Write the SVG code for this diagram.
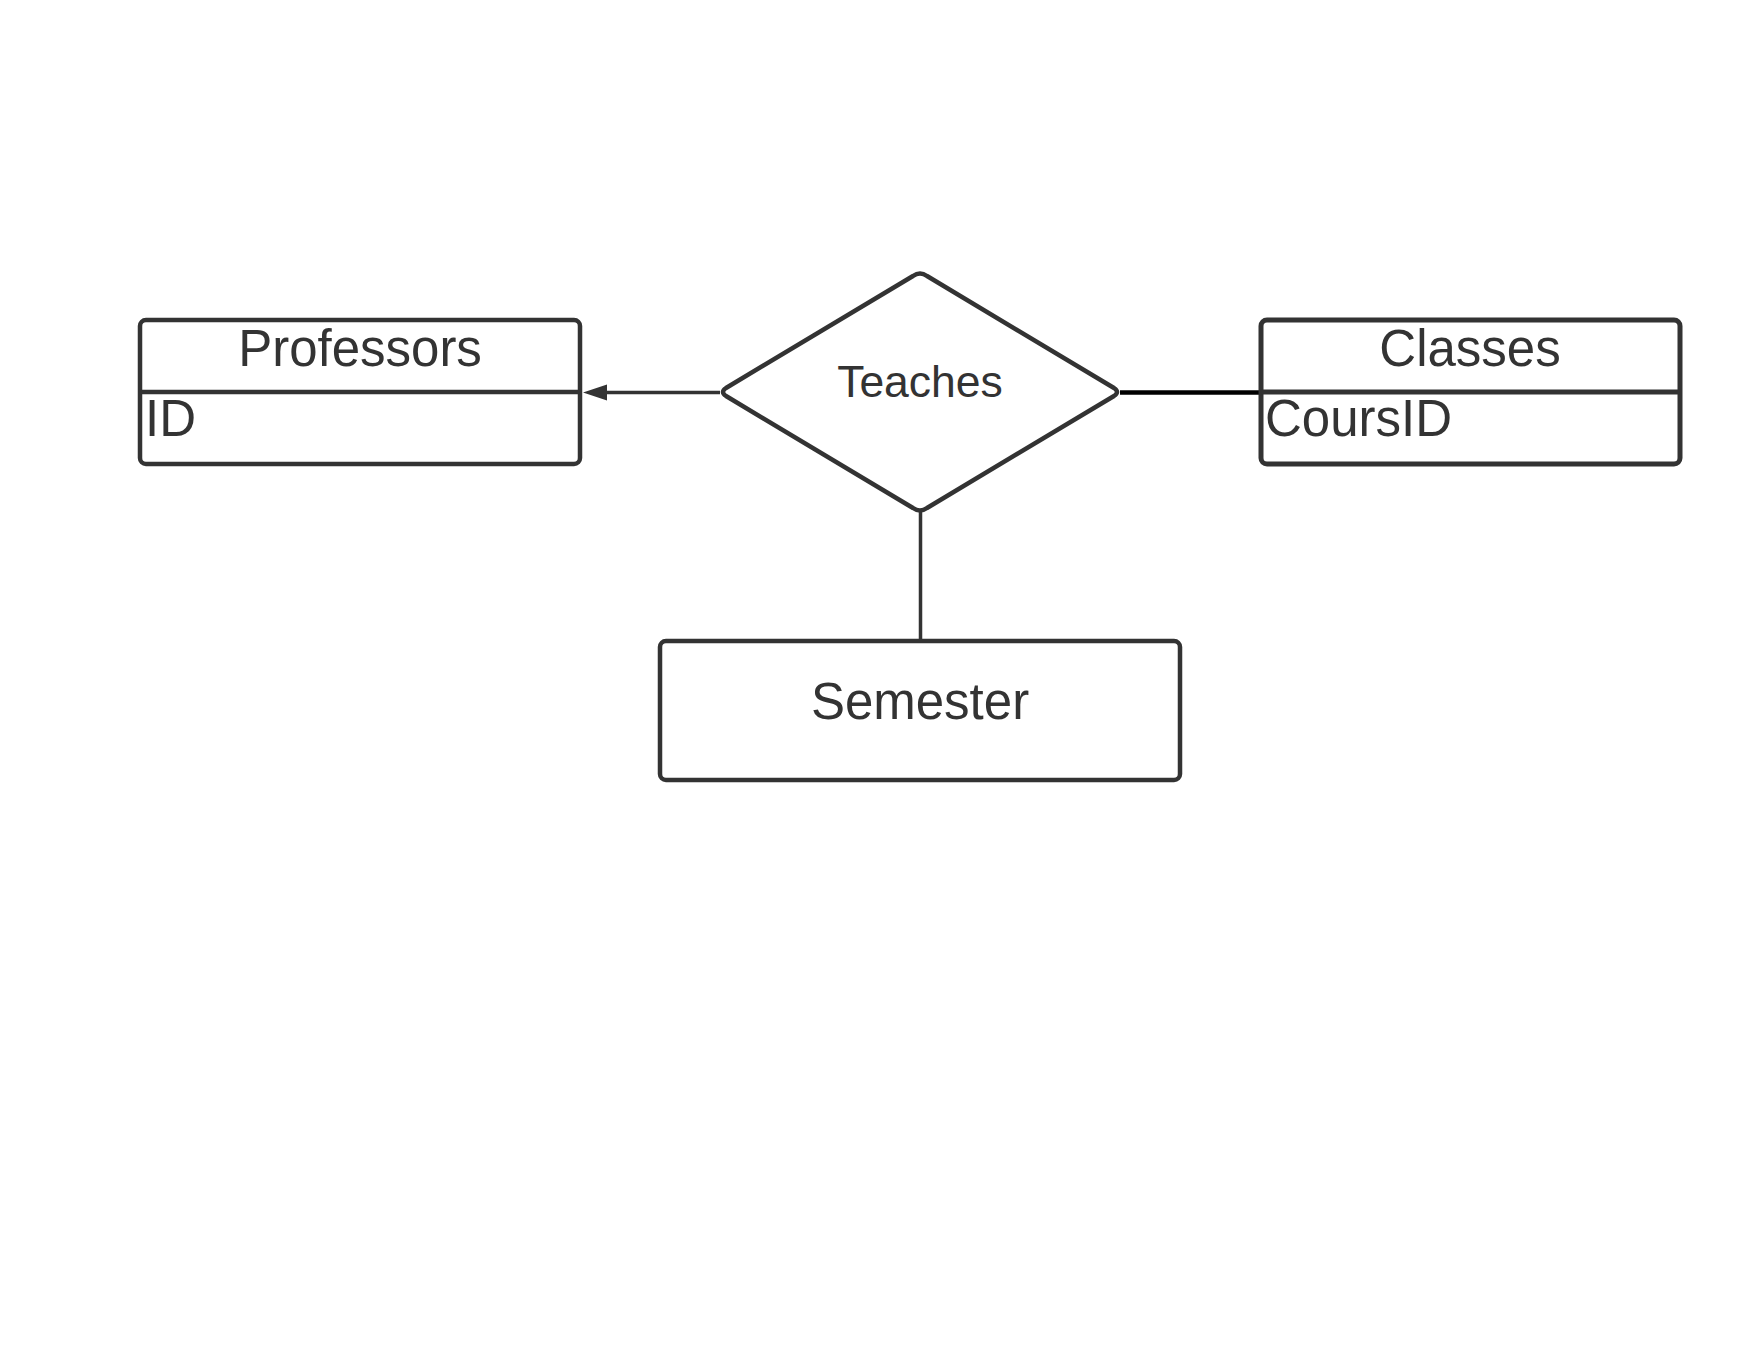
<svg xmlns="http://www.w3.org/2000/svg" width="1760" height="1360" viewBox="0 0 1760 1360">
  <defs>
    <style>
      .box { fill: #ffffff; stroke: #333333; stroke-width: 4.5; }
      .div { stroke: #333333; stroke-width: 4.5; }
      .lbl { font-family: "Liberation Sans", Arial, sans-serif; fill: #333333; }
      .title { font-size: 51px; text-anchor: middle; }
      .attr { font-size: 51px; }
      .conn { stroke: #333333; stroke-width: 3.5; fill: none; }
    </style>
  </defs>
  <rect width="1760" height="1360" fill="#ffffff"/>

  <g id="connectors">
    <line class="conn" x1="720" y1="392.5" x2="605" y2="392.5"/>
    <path d="M607,384.5 L583,392.5 L607,400.5 Z" fill="#333333"/>
    <line x1="1120" y1="392.5" x2="1261" y2="392.5" stroke="#000000" stroke-width="4.5"/>
    <line class="conn" x1="920.5" y1="511" x2="920.5" y2="640"/>
  </g>

  <g id="professors">
    <rect class="box" x="140" y="320" width="440" height="144" rx="6"/>
    <line class="div" x1="140" y1="392" x2="580" y2="392"/>
    <text class="lbl title" x="360" y="366">Professors</text>
    <text class="lbl attr" x="145" y="436">ID</text>
  </g>

  <g id="teaches">
    <path d="M913,276 Q920,271 927,276 L1114,388 Q1120,392 1114,396 L927,508 Q920,513 913,508 L726,396 Q720,392 726,388 Z" fill="#ffffff" stroke="#333333" stroke-width="4.5" stroke-linejoin="round"/>
    <text class="lbl" x="920" y="397" font-size="44.5" text-anchor="middle">Teaches</text>
  </g>

  <g id="classes">
    <rect class="box" x="1261" y="320" width="419" height="144" rx="6" style="stroke-width:5"/>
    <line class="div" x1="1261" y1="392" x2="1680" y2="392" style="stroke-width:5"/>
    <text class="lbl title" x="1470" y="366">Classes</text>
    <text class="lbl attr" x="1265" y="436">CoursID</text>
  </g>

  <g id="semester">
    <rect class="box" x="660" y="641" width="520" height="139" rx="6"/>
    <text class="lbl title" x="920" y="719">Semester</text>
  </g>
</svg>
